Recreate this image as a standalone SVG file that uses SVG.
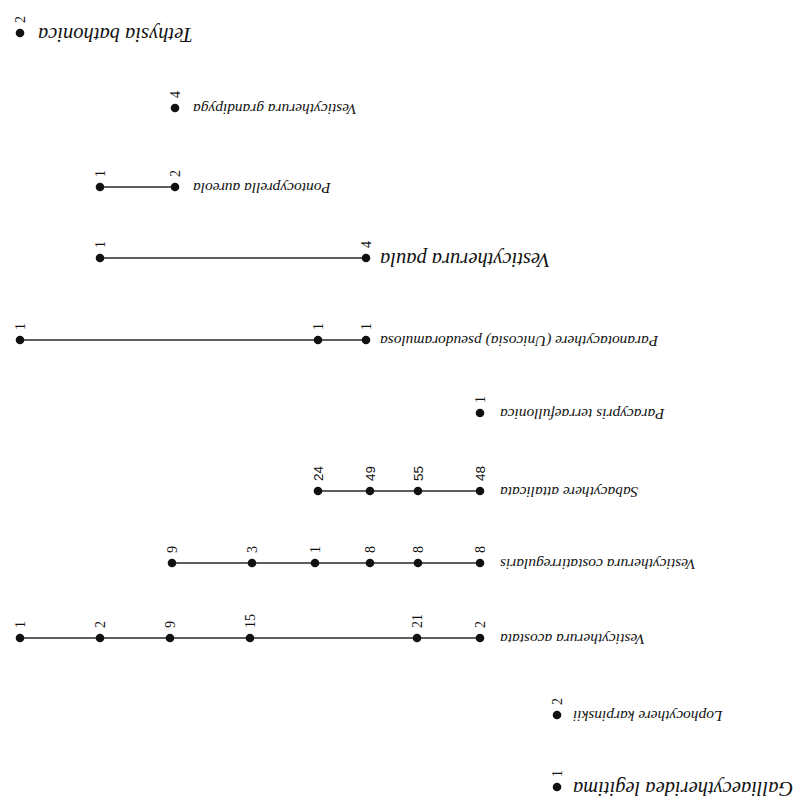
<svg xmlns="http://www.w3.org/2000/svg" width="804" height="811" viewBox="0 0 804 811">
<style>
.sp{font-family:"Liberation Serif","Times New Roman",serif;font-style:italic;font-size:15.4px;fill:#111;text-anchor:end}
.big{font-size:20.5px}
.n{font-family:"Liberation Serif","Times New Roman",serif;font-size:14px;fill:#111}
.ns{font-family:"Liberation Sans",Arial,sans-serif;font-size:13.5px;fill:#111}
.d{fill:#111}
.ln{stroke:#2a2a2a;stroke-width:1.5;fill:none}
</style>
<rect width="804" height="811" fill="#fff"/>
<g transform="rotate(180 402 405.5)">
<g id="connectors">
<line class="ln" x1="629" y1="624" x2="704" y2="624"/>
<line class="ln" x1="438" y1="553" x2="704" y2="553"/>
<line class="ln" x1="438" y1="471" x2="784" y2="471"/>
<line class="ln" x1="324" y1="320" x2="486" y2="320"/>
<line class="ln" x1="324" y1="248" x2="632" y2="248"/>
<line class="ln" x1="324" y1="173" x2="784" y2="173"/>
</g>
<g id="tethysia">
<text class="sp big" x="766" y="783">Tethysia bathonica</text>
<circle class="d" cx="784" cy="778" r="4.3"/>
<text class="n" transform="translate(779.5 788) rotate(90)">2</text>
</g>
<g id="grandipyga">
<text class="sp" x="611" y="707">Vesticytherura grandipyga</text>
<circle class="d" cx="629" cy="703" r="4.3"/>
<text class="n" transform="translate(624.5 713) rotate(90)">4</text>
</g>
<g id="pontocyprella">
<text class="sp" x="611" y="628">Pontocyprella aureola</text>
<circle class="d" cx="629" cy="624" r="4.3"/>
<circle class="d" cx="704" cy="624" r="4.3"/>
<text class="n" transform="translate(624.5 634) rotate(90)">2</text>
<text class="n" transform="translate(699.5 634) rotate(90)">1</text>
</g>
<g id="paula">
<text class="sp big" x="424" y="558">Vesticytherura paula</text>
<circle class="d" cx="438" cy="553" r="4.3"/>
<circle class="d" cx="704" cy="553" r="4.3"/>
<text class="n" transform="translate(433.5 563) rotate(90)">4</text>
<text class="n" transform="translate(699.5 563) rotate(90)">1</text>
</g>
<g id="paranotacythere">
<text class="sp" x="424" y="475">Paranotacythere (Unicosia) pseudoramulosa</text>
<circle class="d" cx="438" cy="471" r="4.3"/>
<circle class="d" cx="486" cy="471" r="4.3"/>
<circle class="d" cx="784" cy="471" r="4.3"/>
<text class="n" transform="translate(433.5 481) rotate(90)">1</text>
<text class="n" transform="translate(481.5 481) rotate(90)">1</text>
<text class="n" transform="translate(779.5 481) rotate(90)">1</text>
</g>
<g id="paracypris">
<text class="sp" x="304" y="402">Paracypris terraefullonica</text>
<circle class="d" cx="324" cy="398" r="4.3"/>
<text class="n" transform="translate(319.5 408) rotate(90)">1</text>
</g>
<g id="sabacythere">
<text class="sp" x="304" y="324">Sabacythere attalicata</text>
<circle class="d" cx="324" cy="320" r="4.3"/>
<circle class="d" cx="386" cy="320" r="4.3"/>
<circle class="d" cx="434" cy="320" r="4.3"/>
<circle class="d" cx="486" cy="320" r="4.3"/>
<text class="ns" transform="translate(319.5 330) rotate(90)">48</text>
<text class="ns" transform="translate(381.5 330) rotate(90)">55</text>
<text class="ns" transform="translate(429.5 330) rotate(90)">49</text>
<text class="ns" transform="translate(481.5 330) rotate(90)">24</text>
</g>
<g id="costatirregularis">
<text class="sp" x="304" y="252">Vesticytherura costatirregularis</text>
<circle class="d" cx="324" cy="248" r="4.3"/>
<circle class="d" cx="386" cy="248" r="4.3"/>
<circle class="d" cx="434" cy="248" r="4.3"/>
<circle class="d" cx="489" cy="248" r="4.3"/>
<circle class="d" cx="552" cy="248" r="4.3"/>
<circle class="d" cx="632" cy="248" r="4.3"/>
<text class="n" transform="translate(319.5 258) rotate(90)">8</text>
<text class="n" transform="translate(381.5 258) rotate(90)">8</text>
<text class="n" transform="translate(429.5 258) rotate(90)">8</text>
<text class="n" transform="translate(484.5 258) rotate(90)">1</text>
<text class="n" transform="translate(547.5 258) rotate(90)">3</text>
<text class="n" transform="translate(627.5 258) rotate(90)">9</text>
</g>
<g id="acostata">
<text class="sp" x="304" y="177">Vesticytherura acostata</text>
<circle class="d" cx="324" cy="173" r="4.3"/>
<circle class="d" cx="387" cy="173" r="4.3"/>
<circle class="d" cx="554" cy="173" r="4.3"/>
<circle class="d" cx="634" cy="173" r="4.3"/>
<circle class="d" cx="704" cy="173" r="4.3"/>
<circle class="d" cx="784" cy="173" r="4.3"/>
<text class="n" transform="translate(319.5 183) rotate(90)">2</text>
<text class="n" transform="translate(382.5 183) rotate(90)">21</text>
<text class="n" transform="translate(549.5 183) rotate(90)">15</text>
<text class="n" transform="translate(629.5 183) rotate(90)">9</text>
<text class="n" transform="translate(699.5 183) rotate(90)">2</text>
<text class="n" transform="translate(779.5 183) rotate(90)">1</text>
</g>
<g id="lophocythere">
<text class="sp" x="231" y="100">Lophocythere karpinskii</text>
<circle class="d" cx="247" cy="96" r="4.3"/>
<text class="n" transform="translate(242.5 106) rotate(90)">2</text>
</g>
<g id="galliaecytheridea">
<text class="sp big" x="231" y="29">Galliaecytheridea legitima</text>
<circle class="d" cx="247" cy="24" r="4.3"/>
<text class="n" transform="translate(242.5 34) rotate(90)">1</text>
</g>
</g>
</svg>
